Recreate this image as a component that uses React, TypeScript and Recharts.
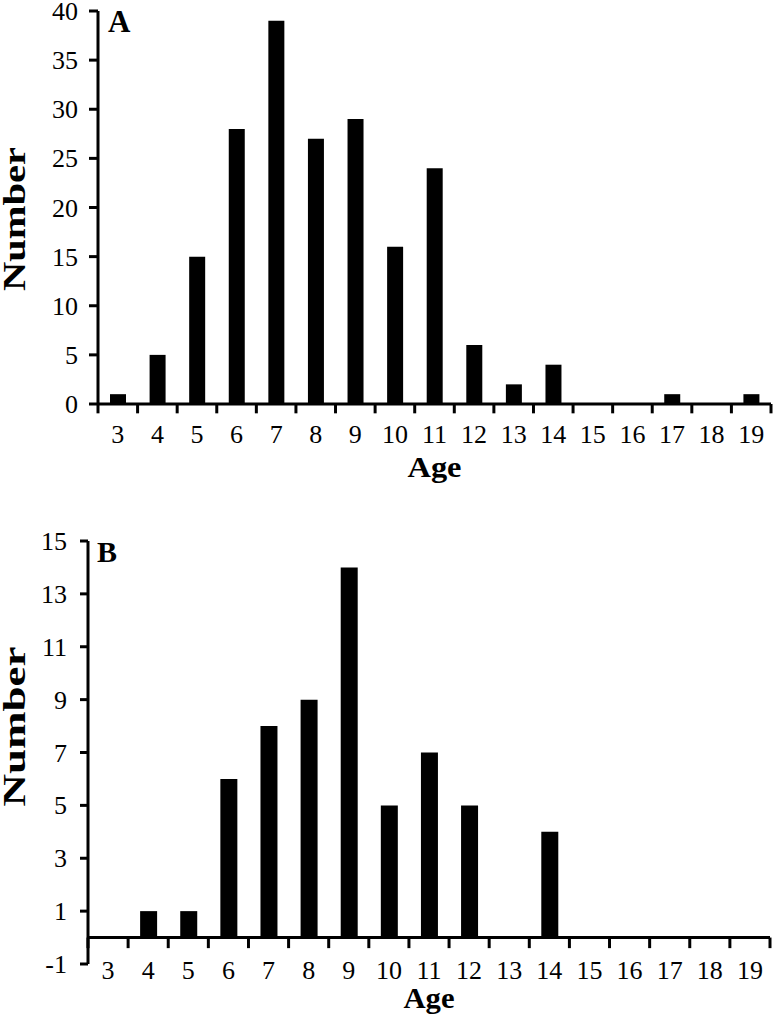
import React from 'react';
import { BarChart, Bar, XAxis, YAxis, ReferenceLine } from 'recharts';

const ages = [3, 4, 5, 6, 7, 8, 9, 10, 11, 12, 13, 14, 15, 16, 17, 18, 19];
const countsA = [1, 5, 15, 28, 39, 27, 29, 16, 24, 6, 2, 4, 0, 0, 1, 0, 1];
const countsB = [0, 1, 1, 6, 8, 9, 14, 5, 7, 5, 0, 4, 0, 0, 0, 0, 0];
const yTicksA = [0, 5, 10, 15, 20, 25, 30, 35, 40];
const yTicksB = [-1, 1, 3, 5, 7, 9, 11, 13, 15];
// tick marks sit between the age groups
const edges = [2.5, 3.5, 4.5, 5.5, 6.5, 7.5, 8.5, 9.5, 10.5, 11.5, 12.5, 13.5, 14.5, 15.5, 16.5, 17.5, 18.5, 19.5];

const FONT = 'Liberation Serif';
const line = { stroke: '#000', strokeWidth: 3 };

function xTick(dy: number) {
  return (props: any) => (
    <text
      x={props.x}
      y={props.y}
      dy={dy}
      textAnchor="middle"
      fontFamily={FONT}
      fontSize={26}
      fill="#000"
    >
      {props.payload.value}
    </text>
  );
}

function yTick(props: any) {
  return (
    <text
      x={props.x}
      y={props.y}
      dy={9}
      textAnchor="end"
      fontFamily={FONT}
      fontSize={26}
      fill="#000"
    >
      {props.payload.value}
    </text>
  );
}

function yTitle(letter: string, len: number, dy: number, letterSize: number, letterDx: number) {
  return (props: any) => {
    const vb = props.viewBox || {};
    const cx = (vb.x || 0) + 25;
    const cy = (vb.y || 0) + (vb.height || 0) / 2 + dy;
    return (
      <g>
        <text
          x={cx}
          y={cy}
          transform={`rotate(-90, ${cx}, ${cy})`}
          textAnchor="middle"
          fontFamily={FONT}
          fontWeight="bold"
          fontSize={32}
          textLength={len}
          lengthAdjust="spacingAndGlyphs"
          fill="#000"
        >
          Number
        </text>
        <text
          x={(vb.x || 0) + (vb.width || 0) + letterDx}
          y={(vb.y || 0) + 21}
          fontFamily={FONT}
          fontWeight="bold"
          fontSize={letterSize}
          fill="#000"
        >
          {letter}
        </text>
      </g>
    );
  };
}

function xTitle(dy: number, width: number) {
  return (props: any) => {
    const vb = props.viewBox || {};
    return (
      <text
        x={(vb.x || 0) + (vb.width || 0) / 2}
        y={(vb.y || 0) + dy}
        textAnchor="middle"
        fontFamily={FONT}
        fontWeight="bold"
        fontSize={29}
        textLength={width}
        lengthAdjust="spacingAndGlyphs"
        fill="#000"
      >
        Age
      </text>
    );
  };
}

export default function App() {
  const dataA = ages.map((age, i) => ({ age, count: countsA[i] }));
  const dataB = ages.map((age, i) => ({ age, count: countsB[i] }));

  return (
    <div style={{ position: 'absolute', left: 0, top: 0, width: 774, background: '#fff', fontFamily: FONT }}>
      <BarChart width={774} height={490} data={dataA} margin={{ top: 11, right: 3, left: 0, bottom: 0 }}>
        <XAxis
          dataKey="age"
          type="number"
          domain={[2.5, 19.5]}
          allowDataOverflow
          ticks={ages}
          interval={0}
          height={86}
          tick={xTick(39)}
          tickLine={false}
          tickSize={0}
          tickMargin={0}
          axisLine={line}
          label={xTitle(73, 54)}
        />
        <YAxis
          domain={[0, 40]}
          ticks={yTicksA}
          interval={0}
          width={98}
          tick={yTick}
          tickSize={9}
          tickMargin={11}
          tickLine={line}
          axisLine={line}
          label={yTitle('A', 144, 11.5, 31, 10)}
        />
        {edges.map((e) => (
          <ReferenceLine
            key={e}
            segment={[{ x: e, y: 0 }, { x: e, y: -0.95 }]}
            ifOverflow="visible"
            stroke="#000"
            strokeWidth={3}
          />
        ))}
        <Bar dataKey="count" fill="#000" barSize={16} isAnimationActive={false} />
      </BarChart>
      <BarChart width={774} height={535} data={dataB} margin={{ top: 51, right: 4, left: 0, bottom: 0 }}>
        <XAxis
          dataKey="age"
          type="number"
          domain={[2.5, 19.5]}
          allowDataOverflow
          ticks={ages}
          interval={0}
          height={61}
          tick={xTick(15)}
          tickLine={false}
          tickSize={0}
          tickMargin={0}
          axisLine={false}
          label={xTitle(44, 51)}
        />
        <YAxis
          domain={[-1, 15]}
          ticks={yTicksB}
          interval={0}
          width={88}
          tick={yTick}
          tickSize={8}
          tickMargin={13}
          tickLine={line}
          axisLine={line}
          label={yTitle('B', 160, -26, 30, 9)}
        />
        <ReferenceLine y={0} stroke="#000" strokeWidth={3} />
        {edges.map((e) => (
          <ReferenceLine
            key={e}
            segment={[{ x: e, y: 0 }, { x: e, y: -0.4 }]}
            ifOverflow="visible"
            stroke="#000"
            strokeWidth={3}
          />
        ))}
        <Bar dataKey="count" fill="#000" barSize={17} isAnimationActive={false} />
      </BarChart>
    </div>
  );
}
